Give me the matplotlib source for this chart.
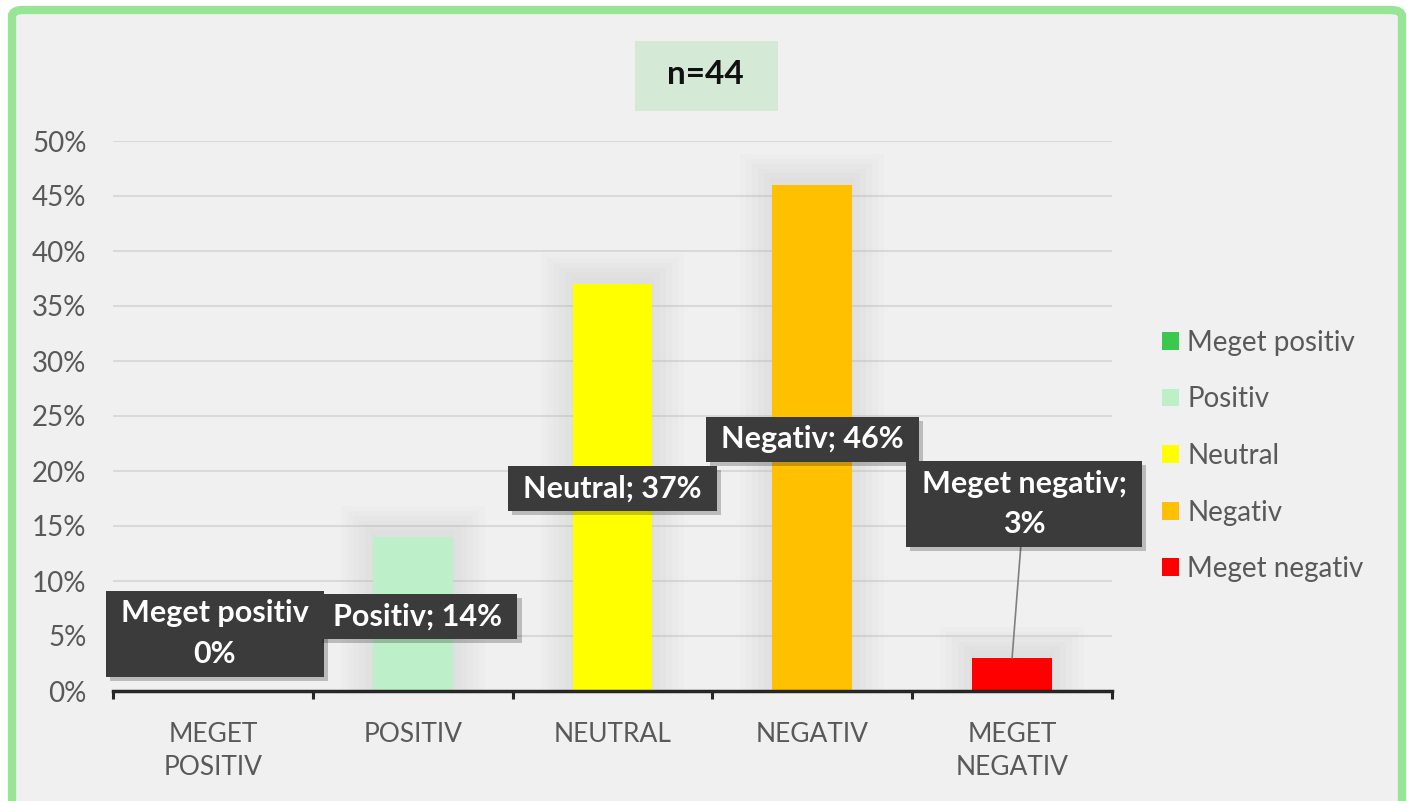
import matplotlib.pyplot as plt
from matplotlib.patches import FancyBboxPatch, Rectangle, Patch
from matplotlib.path import Path
import matplotlib.patheffects as pe

plt.rcParams['font.family'] = ['Lato', 'DejaVu Sans']

# data
categories = ['Meget positiv', 'Positiv', 'Neutral', 'Negativ', 'Meget negativ']
tick_labels = ['MEGET\nPOSITIV', 'POSITIV', 'NEUTRAL', 'NEGATIV', 'MEGET\nNEGATIV']
values = [0, 14, 37, 46, 3]
colors = ['#3cc850', '#bdefc8', '#ffff00', '#ffc000', '#ff0000']
n_total = 44

# label placement (data coords) and text
label_pos = [(0.01, 5.2), (1.025, 6.8), (2.0, 18.4), (3.0, 22.9), (4.06, 17.0)]
label_text = ['Meget positiv\n0%', 'Positiv; 14%', 'Neutral; 37%', 'Negativ; 46%', 'Meget negativ;\n3%']


class WideBox:
    # rectangle with separate x / y padding (in units of font size)
    def __init__(self, padx, pady):
        self.padx, self.pady = padx, pady

    def __call__(self, x0, y0, width, height, mutation_size):
        px, py = self.padx * mutation_size, self.pady * mutation_size
        x0, y0 = x0 - px, y0 - py
        x1, y1 = x0 + width + 2 * px, y0 + height + 2 * py
        return Path([(x0, y0), (x1, y0), (x1, y1), (x0, y1), (x0, y0)],
                    closed=True)


fig = plt.figure(figsize=(14.07, 8.01), dpi=100, facecolor='white')

# page background with green rounded border
bg = FancyBboxPatch((12/1407, -0.05), (1402-12)/1407, 1.05 - 10/801,
                    boxstyle='round,pad=0,rounding_size=0.008',
                    transform=fig.transFigure, facecolor='#f0f0f0',
                    edgecolor='#98e598', linewidth=6, zorder=-10)
fig.patches.append(bg)

# n= box
fig.patches.append(Rectangle((635/1407, 1 - 111/801), 143/1407, 70/801,
                             transform=fig.transFigure, facecolor='#d5ead6',
                             edgecolor='none', zorder=-9))
fig.text(705/1407, 1 - 75/801, f'n={n_total}', ha='center', va='center',
         fontsize=24, fontweight='bold', color='#111111', zorder=2)

ax = fig.add_axes([113/1407, 110/801, (1112-113)/1407, 550/801])
ax.set_facecolor('none')
x = list(range(len(categories)))

# faint glow behind bars
for k in range(6):
    ax.bar(x, [v + 0.6 + k * 0.45 if v > 0 else 0 for v in values],
           width=0.42 + k * 0.06, color='#b0b0b0', alpha=0.04, zorder=1,
           linewidth=0)

bars = ax.bar(x, values, width=0.4, color=colors, zorder=3)

ax.set_xlim(-0.5, 4.5)
ax.set_ylim(0, 50)
ax.set_yticks(range(0, 51, 5))
ax.set_yticklabels([f'{v}%' for v in range(0, 51, 5)])
ax.grid(axis='y', color='#d9d9d9', linewidth=1.5, zorder=0)
ax.set_axisbelow(True)

ax.set_xticks(x)
ax.set_xticklabels(tick_labels, linespacing=1.4)
ax.set_xticks([i - 0.5 for i in range(len(categories) + 1)], minor=True)
ax.tick_params(axis='x', which='major', length=0, pad=22, labelsize=19,
               labelcolor='#595959')
ax.tick_params(axis='x', which='minor', length=6, width=2.2, color='#262626',
               direction='out')
ax.tick_params(axis='y', length=0, pad=19, labelsize=20, labelcolor='#595959')
for s in ['top', 'right', 'left']:
    ax.spines[s].set_visible(False)
ax.spines['bottom'].set_color('#262626')
ax.spines['bottom'].set_linewidth(2.5)
ax.spines['bottom'].set_zorder(5)

# data labels
for i, (txt, (lx, ly)) in enumerate(zip(label_text, label_pos)):
    arrow = None
    if i == 4:
        arrow = dict(arrowstyle='-', color='#7f7f7f', lw=1.2,
                     shrinkA=0, shrinkB=0)
    t = ax.annotate(txt, xy=(x[i], values[i]), xytext=(lx, ly),
                    textcoords='data', ha='center', va='center',
                    fontsize=22, fontweight='bold', color='white',
                    linespacing=1.55, zorder=10,
                    bbox=dict(boxstyle=WideBox(0.5, 0.28), facecolor='#3b3b3b',
                              edgecolor='none'),
                    arrowprops=arrow)
    t.get_bbox_patch().set_path_effects([
        pe.SimplePatchShadow(offset=(3, -3), shadow_rgbFace='#000000', alpha=0.22),
        pe.Normal()])

# legend
handles = [Patch(facecolor=c, edgecolor='none', label=l) for c, l in zip(colors, categories)]
fig.legend(handles=handles, loc='center left', bbox_to_anchor=(1162/1407, 1 - 456/801),
           frameon=False, fontsize=20, labelcolor='#595959', handlelength=0.6,
           handleheight=0.6, handletextpad=0.3, labelspacing=1.1, borderpad=0,
           borderaxespad=0)

fig.savefig('out.png', dpi=100, facecolor=fig.get_facecolor())
